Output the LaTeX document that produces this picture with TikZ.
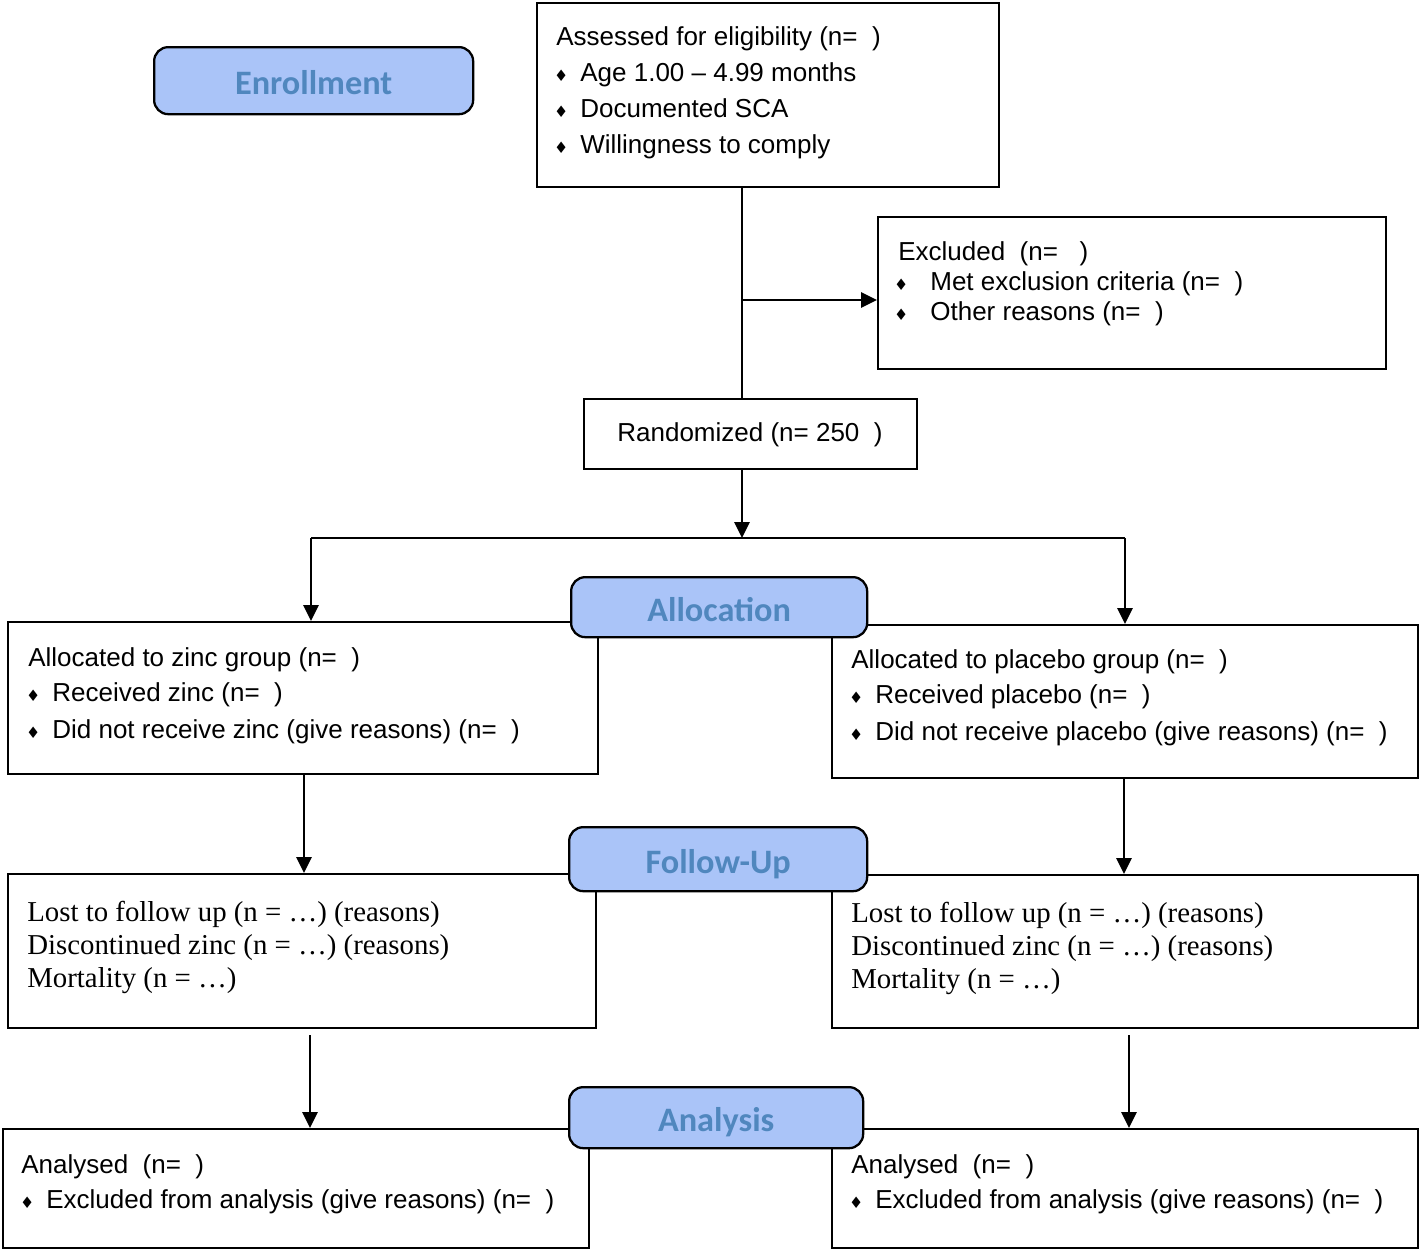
\documentclass[tikz,border=0pt]{standalone}
\usepackage{fontspec}
\setmainfont{Liberation Sans}
\newfontfamily\serifx{Liberation Serif}
\newfontfamily\dv{DejaVu Sans}
\newfontfamily\lab{Carlito}
\usetikzlibrary{arrows.meta}
\definecolor{labfill}{RGB}{170,196,248}
\definecolor{labtext}{RGB}{80,135,190}
\newcommand\bul[1][6.8pt]{\llap{{\dv\fontsize{9}{9}\selectfont ♦}\hspace{#1}}}

\begin{document}
\begin{tikzpicture}[x=0.02cm,y=-0.02cm,
  box/.style n args={4}{draw, line width=1.3pt, inner sep=0pt, anchor=north west,
    at={(#1,#2)}, minimum width={(#3-#1)*0.02cm}, minimum height={(#4-#2)*0.02cm}},
  lbl/.style n args={4}{draw, line width=1.3pt, rounded corners=8pt, fill=labfill,
    text=labtext, font=\lab\bfseries\fontsize{19.5}{20}\selectfont, inner sep=0pt,
    text height=16pt, text depth=0pt,
    anchor=north west, at={(#1,#2)}, minimum width={(#3-#1)*0.02cm},
    minimum height={(#4-#2)*0.02cm}},
  txt/.style={anchor=base west, inner sep=0pt, font=\fontsize{14.8}{17}\selectfont},
  stx/.style={anchor=base west, inner sep=0pt, font=\serifx\fontsize{16.4}{19}\selectfont},
  ln/.style={line width=1.6pt},
  arr/.style={line width=1.6pt, -{Triangle[length=9pt,width=8.5pt]}}]

\useasboundingbox (0,0) rectangle (1419,1249);

% Enrollment
\node[box={536}{1.5}{998}{186}] (elig) {};
\node[txt] (elig1) at (556,45) {Assessed for eligibility (n=\ \ )};
\node[txt] (elig2) at (580,81) {\bul Age 1.00 – 4.99 months};
\node[txt] (elig3) at (580,117) {\bul Documented SCA};
\node[txt] (elig4) at (580,153) {\bul Willingness to comply};

\node[box={877}{216}{1385}{368}] (excl) {};
\node[txt] (excl1) at (898,260) {Excluded\ \ (n=\ \ \ )};
\node[txt] (excl2) at (930,290) {\bul[12.5pt]Met exclusion criteria (n=\ \ )};
\node[txt] (excl3) at (930,320) {\bul[12.5pt]Other reasons (n=\ \ )};

\node[box={583}{398}{916}{468}] (rand) {};
\node[txt] (rand1) at (617,441) {Randomized (n= 250\ \ )};

% Allocation
\node[box={7}{621}{597}{773}] (zinc) {};
\node[txt] (zinc1) at (28,666) {Allocated to zinc group (n=\ \ )};
\node[txt] (zinc2) at (52,701) {\bul Received zinc (n=\ \ )};
\node[txt] (zinc3) at (52,738) {\bul Did not receive zinc (give reasons) (n=\ \ )};

\node[box={831}{624}{1417}{777}] (plac) {};
\node[txt] (plac1) at (851,668) {Allocated to placebo group (n=\ \ )};
\node[txt] (plac2) at (875,703) {\bul Received placebo (n=\ \ )};
\node[txt] (plac3) at (875,740) {\bul Did not receive placebo (give reasons) (n=\ \ )};

% Follow-up
\node[box={7}{873}{595}{1027}] (fz) {};
\node[stx] (fz1) at (27,921) {Lost to follow up (n = …) (reasons)};
\node[stx] (fz2) at (27,954) {Discontinued zinc (n = …) (reasons)};
\node[stx] (fz3) at (27,987) {Mortality (n = …)};

\node[box={831}{874}{1417}{1027}] (fp) {};
\node[stx] (fp1) at (851,922) {Lost to follow up (n = …) (reasons)};
\node[stx] (fp2) at (851,955) {Discontinued zinc (n = …) (reasons)};
\node[stx] (fp3) at (851,988) {Mortality (n = …)};

% Analysis
\node[box={1.5}{1128}{588}{1247}] (az) {};
\node[txt] (az1) at (21,1173) {Analysed\ \ (n=\ \ )};
\node[txt] (az2) at (46,1208) {\bul Excluded from analysis (give reasons) (n=\ \ )};

\node[box={831}{1128}{1417}{1247}] (ap) {};
\node[txt] (ap1) at (851,1173) {Analysed\ \ (n=\ \ )};
\node[txt] (ap2) at (875,1208) {\bul Excluded from analysis (give reasons) (n=\ \ )};

% connectors
\coordinate (jx) at (742,300);
\draw[ln] (jx |- elig.south) -- (jx |- rand.north);
\draw[arr] (jx) -- (jx -| excl.west);
\coordinate (split) at (742,538);
\draw[arr] (jx |- rand.south) -- (split);
\coordinate (sl) at (311,538);
\coordinate (sr) at (1125,538);
\draw[ln] (sl) -- (sr);
\draw[arr] (sl) -- (sl |- zinc.north);
\draw[arr] (sr) -- (sr |- plac.north);
\coordinate (cz) at (304,800);
\draw[arr] (cz |- zinc.south) -- (cz |- fz.north);
\coordinate (cp) at (1124,800);
\draw[arr] (cp |- plac.south) -- (cp |- fp.north);
\coordinate (cz2) at (310,1080);
\draw[arr, shorten <=3.4pt] (cz2 |- fz.south) -- (cz2 |- az.north);
\coordinate (cp2) at (1129,1080);
\draw[arr, shorten <=3.4pt] (cp2 |- fp.south) -- (cp2 |- ap.north);

% stage labels
\node[lbl={153}{46}{472}{113}] (enr) {Enrollment};
\node[lbl={570}{576}{866}{636}] (alloc) {Allocation};
\node[lbl={568}{826}{866}{890}] (fu) {Follow-Up};
\node[lbl={568}{1086}{862}{1147}] (ana) {Analysis};
\end{tikzpicture}
\end{document}
